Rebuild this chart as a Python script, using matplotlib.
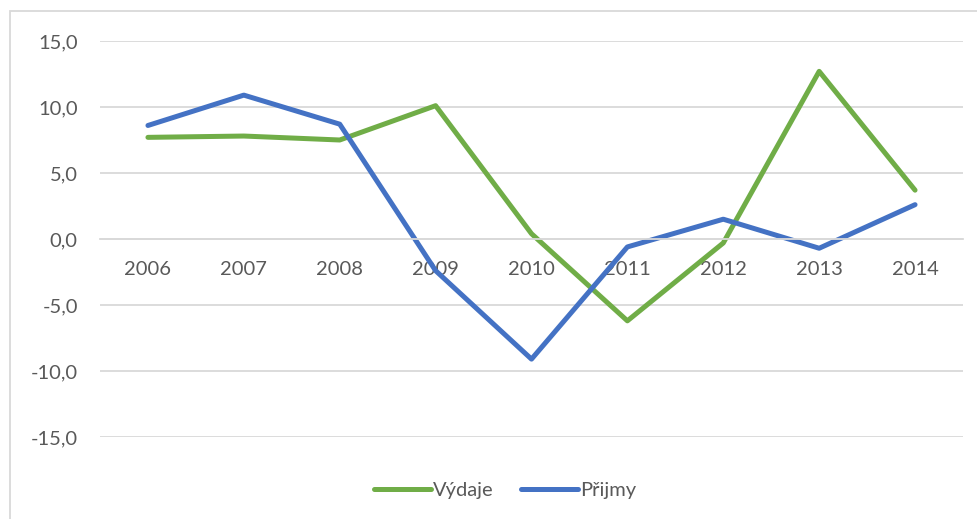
import matplotlib.pyplot as plt
from matplotlib.patches import Rectangle
from matplotlib.ticker import FuncFormatter

years = ['2006', '2007', '2008', '2009', '2010', '2011', '2012', '2013', '2014']
vydaje = [7.7, 7.8, 7.5, 10.1, 0.4, -6.2, -0.3, 12.7, 3.7]
prijmy = [8.6, 10.9, 8.7, -2.4, -9.1, -0.6, 1.5, -0.7, 2.6]

plt.rcParams['font.family'] = ['Lato', 'DejaVu Sans']
txt = '#595959'
grid = '#D9D9D9'

fig = plt.figure(figsize=(9.78, 5.19), dpi=100)
ax = fig.add_axes([100/978, 82/519, 863/978, 396/519])

x = range(len(years))
ax.plot(x, vydaje, color='#70AD47', lw=3.6, solid_joinstyle='round', solid_capstyle='round', label='Výdaje')
ax.plot(x, prijmy, color='#4472C4', lw=3.6, solid_joinstyle='round', solid_capstyle='round', label='Přijmy')

ax.set_xlim(-0.5, len(years) - 0.5)
ax.set_ylim(-15, 15)
ax.set_yticks(range(-15, 16, 5))
ax.yaxis.set_major_formatter(FuncFormatter(lambda v, p: f'{v:.1f}'.replace('.', ',')))
ax.set_xticks(list(x))
ax.set_xticklabels(years)

ax.grid(axis='y', color=grid, lw=1.3)
ax.set_axisbelow(True)
for s in ['top', 'right', 'left']:
    ax.spines[s].set_visible(False)
ax.spines['bottom'].set_position(('data', 0))
ax.spines['bottom'].set_color(grid)
ax.spines['bottom'].set_linewidth(1.3)
ax.tick_params(axis='both', length=0, labelsize=14.5, colors=txt)
ax.tick_params(axis='x', pad=16)
ax.tick_params(axis='y', pad=16)

leg = fig.legend(loc='center', bbox_to_anchor=(505/978, 1 - 490/519), ncol=2, frameon=False,
                 fontsize=14.5, handlelength=2.8, handletextpad=0.1, columnspacing=1.4)
for t in leg.get_texts():
    t.set_color(txt)

fig.patches.append(Rectangle((10/978, -0.1), 1.2, 1.1 - 11/519, transform=fig.transFigure,
                             fill=False, edgecolor=grid, lw=1.3))

fig.savefig('out.png', dpi=100)
